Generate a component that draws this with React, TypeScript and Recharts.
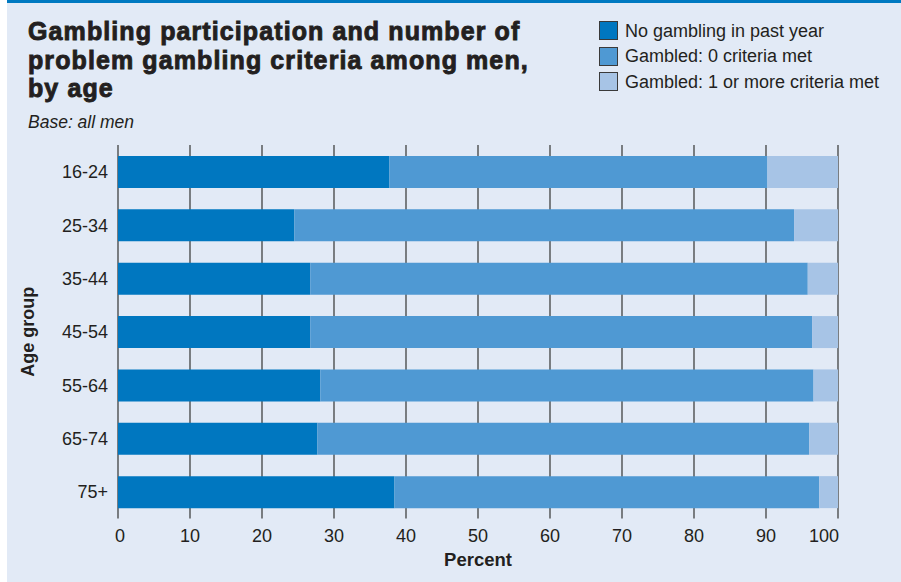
import React from "react";
import { BarChart, Bar, XAxis, YAxis, CartesianGrid, Legend } from "recharts";

const categories = ["16-24", "25-34", "35-44", "45-54", "55-64", "65-74", "75+"];
const noGambling = [37.7, 24.5, 26.7, 26.7, 28.1, 27.7, 38.4];
const gambledZero = [52.5, 69.4, 69.1, 69.7, 68.5, 68.3, 59.0];
const gambledOnePlus = [9.8, 6.1, 4.2, 3.6, 3.4, 4.0, 2.6];
const xTicks = [0, 10, 20, 30, 40, 50, 60, 70, 80, 90, 100];
const seriesNames = ["No gambling in past year", "Gambled: 0 criteria met", "Gambled: 1 or more criteria met"];
const titleLines = ["Gambling participation and number of", "problem gambling criteria among men,", "by age"];

const data = categories.map((age, i) => ({
  age,
  none: noGambling[i],
  zero: gambledZero[i],
  onePlus: gambledOnePlus[i],
}));

const FONT = "'Liberation Sans', Arial, Helvetica, sans-serif";
const TEXT = "#231f20";
const BG = "#e2eaf6";
const C1 = "#0077c0";
const C2 = "#4f99d3";
const C3 = "#a7c4e6";

const XTick = (props: any) => {
  const { x, y, payload } = props;
  const v = payload.value;
  const anchor = v === 100 ? "end" : "middle";
  const dx = v === 100 ? 1 : v === 0 ? 2 : 0;
  return (
    <text x={x + dx} y={y + 15} textAnchor={anchor} fontFamily={FONT} fontSize={18} fill={TEXT}>
      {v}
    </text>
  );
};

const YTick = (props: any) => {
  const { y, payload } = props;
  return (
    <text x={108} y={y + 6.5} textAnchor="end" fontFamily={FONT} fontSize={18} fill={TEXT}>
      {payload.value}
    </text>
  );
};

const LegendContent = (props: any) => {
  const items = [...(props.payload || [])].sort(
    (a: any, b: any) => seriesNames.indexOf(a.value) - seriesNames.indexOf(b.value)
  );
  return (
    <div style={{ fontFamily: FONT, fontSize: 18, color: TEXT }}>
      {items.map((p: any, i: number) => (
        <div key={i} style={{ display: "flex", alignItems: "center", height: 25.5 }}>
          <div
            style={{
              width: 19,
              height: 19,
              background: p.color,
              border: "1px solid #3a3a3a",
              boxSizing: "border-box",
              marginRight: 7,
            }}
          />
          <span style={{ lineHeight: "20px", whiteSpace: "nowrap" }}>{p.value}</span>
        </div>
      ))}
    </div>
  );
};

export default function App() {
  return (
    <div style={{ position: "absolute", left: 0, top: 0, width: 901, height: 582, background: "#fff" }}>
      <div style={{ position: "absolute", left: 7, top: 0, width: 894, height: 582, background: BG }} />
      <div style={{ position: "absolute", left: 7, top: 0, width: 894, height: 3, background: "#0079c1" }} />
      <svg width={901} height={140} style={{ position: "absolute", left: 0, top: 0 }}>
        {titleLines.map((t, i) => (
          <text
            key={i}
            x={28}
            y={40 + i * 28.5}
            fontFamily={FONT}
            fontWeight={700}
            fontSize={25}
            fill={TEXT}
            stroke={TEXT}
            strokeWidth={0.9}
            letterSpacing={1.1}
          >
            {t}
          </text>
        ))}
        <text x={28} y={128} fontFamily={FONT} fontStyle="italic" fontSize={17.5} fill={TEXT}>
          Base: all men
        </text>
      </svg>
      <div style={{ position: "absolute", left: 0, top: 0 }}>
        <BarChart
          width={901}
          height={582}
          data={data}
          layout="vertical"
          margin={{ top: 145, right: 63, bottom: 0, left: 0 }}
          barSize={32}
        >
          <CartesianGrid horizontal={false} vertical={true} stroke="#333" strokeWidth={1.2} fill="none" />
          <XAxis
            type="number"
            domain={[0, 100]}
            ticks={xTicks}
            axisLine={false}
            tickLine={false}
            tick={<XTick />}
            interval={0}
            height={63.5}
            label={{
              value: "Percent",
              position: "insideBottom",
              offset: 0,
              dy: -16,
              fontFamily: FONT,
              fontWeight: 700,
              fontSize: 18.5,
              fill: TEXT,
            }}
          />
          <YAxis
            type="category"
            dataKey="age"
            width={118}
            axisLine={false}
            tickLine={false}
            tick={<YTick />}
            interval={0}
            label={{
              value: "Age group",
              angle: -90,
              position: "insideLeft",
              dx: 23,
              dy: 0,
              fontFamily: FONT,
              fontWeight: 700,
              fontSize: 18,
              fill: TEXT,
              style: { textAnchor: "middle" },
            }}
          />
          <Legend
            verticalAlign="top"
            align="left"
            content={<LegendContent />}
            wrapperStyle={{ position: "absolute", top: 18, left: 599, width: 300, height: 0, overflow: "visible" }}
          />
          <Bar dataKey="none" name={seriesNames[0]} stackId="a" fill={C1} isAnimationActive={false} />
          <Bar dataKey="zero" name={seriesNames[1]} stackId="a" fill={C2} isAnimationActive={false} />
          <Bar dataKey="onePlus" name={seriesNames[2]} stackId="a" fill={C3} isAnimationActive={false} />
        </BarChart>
      </div>
    </div>
  );
}
